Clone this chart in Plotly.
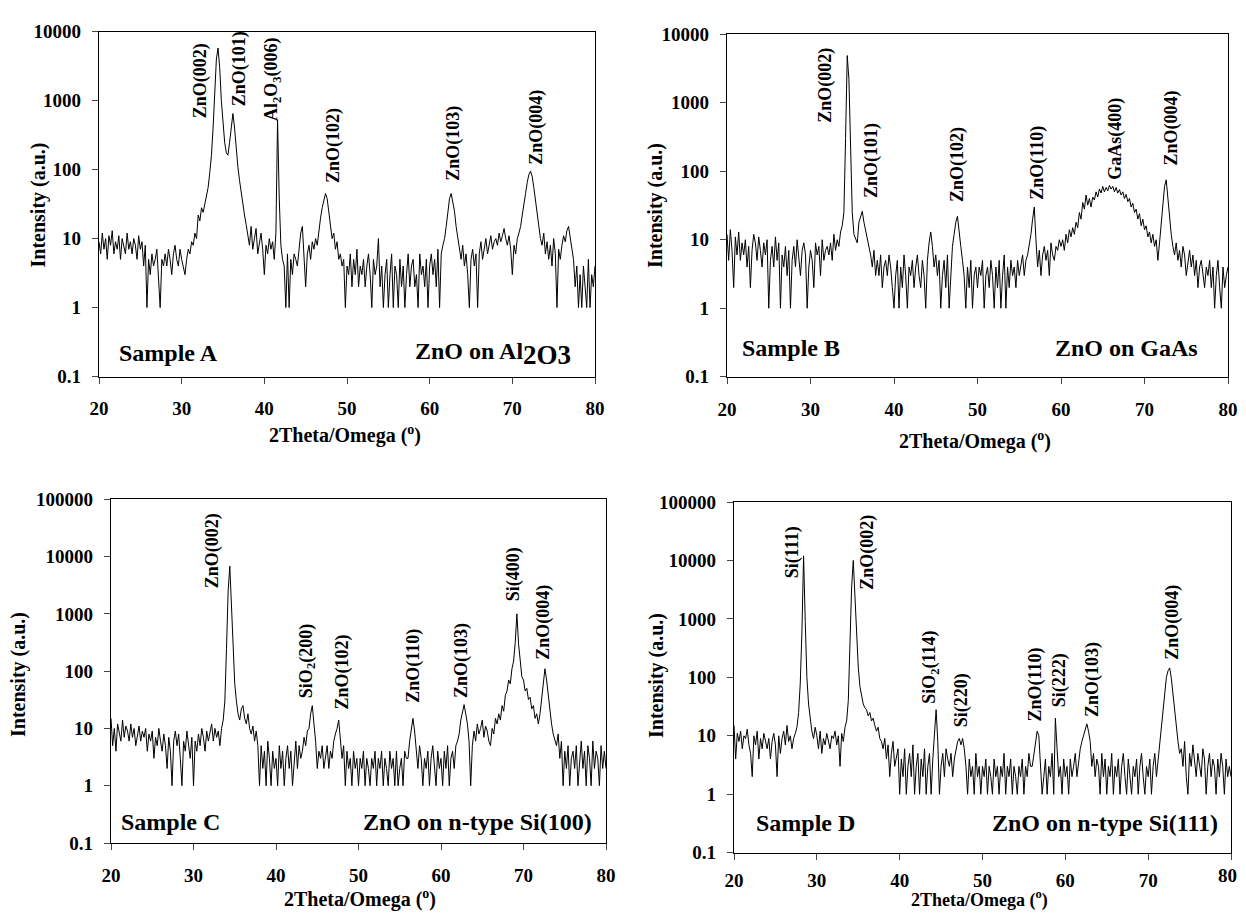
import numpy as np
import plotly.graph_objects as go

# ---------------- data (2theta scan 20..80 deg, step 0.2 deg) ----------------
scan_start, scan_step, scan_points = 20.0, 0.2, 301
two_theta = np.round(scan_start + scan_step * np.arange(scan_points), 2)

# Sample A: ZnO on Al2O3 (counts)
counts_A = [
    9, 6, 12, 7, 10, 5, 11, 8, 13, 6,        # 20
    9, 7, 11, 5, 10, 8, 6, 12, 7, 9,         # 22
    6, 10, 8, 5, 11, 7, 9, 4, 8, 1,          # 24
    5, 3, 6, 4, 5, 7, 3, 1, 5, 4,            # 26
    6, 4, 7, 5, 3, 6, 8, 5, 4, 7,            # 28
    5, 4, 3, 5, 7, 6, 9, 8, 12, 10,          # 30
    22, 18, 28, 24, 32, 42, 55, 90, 160, 400,  # 32
    1500, 4000, 5800, 3000, 1000, 450, 250, 175, 162, 250,  # 34
    450, 650, 400, 200, 110, 70, 45, 35, 22, 16,  # 36
    12, 8, 15, 7, 10, 14, 6, 9, 12, 7,       # 38
    3, 8, 6, 10, 7, 9, 5, 12, 530, 40,       # 40
    8, 5, 4, 1, 6, 1, 5, 3, 6, 5,            # 42
    4, 7, 12, 15, 5, 2, 6, 8, 5, 9,          # 44
    7, 10, 8, 14, 20, 28, 35, 45, 38, 25,    # 46
    15, 10, 12, 7, 9, 5, 6, 4, 5, 1,         # 48
    4, 3, 6, 2, 5, 3, 7, 2, 4, 3,            # 50
    5, 2, 4, 6, 3, 1, 5, 3, 4, 10,           # 52
    2, 4, 1, 3, 5, 1, 3, 6, 1, 4,            # 54
    3, 1, 5, 2, 4, 1, 3, 6, 2, 4,            # 56
    5, 2, 3, 1, 6, 3, 4, 2, 5, 1,            # 58
    4, 6, 3, 5, 2, 7, 1, 6, 8, 10,           # 60
    15, 25, 38, 45, 35, 25, 15, 10, 7, 5,    # 62
    8, 4, 6, 3, 1, 5, 7, 4, 6, 1,            # 64
    6, 9, 5, 7, 10, 6, 8, 11, 7, 9,          # 66
    10, 8, 12, 9, 11, 14, 10, 8, 11, 7,      # 68
    3, 8, 6, 10, 12, 15, 22, 30, 45, 65,     # 70
    85, 95, 80, 55, 35, 22, 15, 10, 8, 12,   # 72
    6, 9, 5, 8, 4, 10, 6, 1, 7, 5,           # 74
    8, 11, 9, 13, 15, 10, 7, 5, 2, 4,        # 76
    1, 3, 1, 4, 2, 1, 5, 1, 3, 2,            # 78
    4,                                        # 80
]

# Sample B: ZnO on GaAs
counts_B = [
    12, 5, 14, 7, 2, 11, 6, 13, 5, 9,        # 20
    6, 10, 4, 8, 2, 7, 12, 9, 5, 11,         # 22
    7, 4, 9, 6, 10, 1, 5, 8, 4, 11,          # 24
    5, 9, 1, 6, 4, 8, 3, 7, 1, 5,            # 26
    8, 4, 10, 5, 3, 7, 9, 6, 1, 4,           # 28
    7, 5, 2, 9, 6, 8, 3, 10, 5, 7,           # 30
    8, 6, 9, 5, 12, 7, 10, 8, 13, 16,        # 32
    25, 300, 4900, 2200, 150, 25, 12, 10, 9, 18,  # 34
    22, 26, 18, 14, 10, 8, 6, 4, 7, 3,       # 36
    5, 3, 6, 2, 4, 5, 3, 6, 4, 2,            # 38
    1, 3, 5, 1, 4, 2, 6, 3, 1, 4,            # 40
    3, 5, 2, 4, 6, 3, 2, 5, 3, 1,            # 42
    5, 9, 13, 8, 4, 6, 3, 5, 1, 3,           # 44
    5, 2, 6, 1, 3, 8, 12, 18, 22, 12,        # 46
    8, 5, 3, 1, 4, 2, 5, 1, 3, 4,            # 48
    2, 4, 3, 5, 1, 3, 4, 2, 5, 3,            # 50
    1, 4, 2, 5, 1, 3, 6, 1, 4, 2,            # 52
    5, 3, 4, 2, 5, 3, 4, 6, 3, 5,            # 54
    6, 8, 12, 20, 30, 10, 4, 7, 3, 6,        # 56
    8, 5, 7, 3, 9, 6, 5, 8, 7, 10,           # 58
    8, 10, 7, 12, 9, 14, 11, 15, 12, 18,     # 60
    15, 25, 20, 35, 28, 45, 32, 40, 30, 42,  # 62
    38, 50, 42, 55, 48, 60, 50, 58, 52, 62,  # 64
    55, 60, 50, 58, 48, 54, 45, 50, 40, 46,  # 66
    36, 40, 30, 34, 25, 28, 20, 24, 16, 20,  # 68
    14, 16, 11, 13, 9, 12, 8, 10, 5, 9,      # 70
    18, 35, 60, 75, 40, 20, 12, 8, 6, 9,     # 72
    5, 7, 4, 8, 6, 3, 5, 7, 4, 6,            # 74
    3, 5, 2, 4, 5, 3, 2, 4, 3, 5,            # 76
    2, 4, 1, 3, 5, 2, 1, 4, 2, 3,            # 78
    4,                                        # 80
]

# Sample C: ZnO on n-type Si(100)
counts_C = [
    15, 5, 10, 4, 12, 8, 6, 14, 7, 11,       # 20
    9, 6, 12, 7, 10, 5, 8, 11, 6, 9,         # 22
    7, 10, 4, 8, 6, 9, 3, 7, 5, 10,          # 24
    6, 4, 8, 5, 2, 7, 4, 1, 6, 9,            # 26
    5, 8, 3, 1, 6, 4, 9, 5, 3, 7,            # 28
    1, 6, 4, 8, 5, 10, 7, 4, 9, 6,           # 30
    8, 12, 6, 10, 7, 9, 5, 10, 14, 30,       # 32
    250, 2500, 6800, 1300, 200, 60, 30, 18, 14, 22,  # 34
    25, 15, 12, 18, 10, 8, 11, 6, 9, 5,      # 36
    1, 5, 2, 4, 1, 6, 3, 1, 4, 2,            # 38
    3, 1, 5, 2, 4, 1, 3, 5, 2, 4,            # 40
    1, 3, 6, 2, 5, 3, 4, 7, 5, 9,            # 42
    10, 18, 25, 12, 6, 2, 4, 3, 5, 2,        # 44
    3, 5, 2, 4, 3, 6, 8, 10, 14, 6,          # 46
    3, 5, 1, 4, 2, 3, 1, 4, 2, 3,            # 48
    1, 3, 2, 4, 1, 3, 2, 1, 3, 2,            # 50
    4, 1, 3, 2, 4, 1, 3, 2, 1, 4,            # 52
    2, 3, 1, 4, 1, 2, 3, 1, 4, 3,            # 54
    3, 6, 10, 15, 9, 4, 2, 5, 3, 1,          # 56
    3, 2, 4, 1, 3, 5, 2, 1, 4, 2,            # 58
    3, 1, 4, 2, 5, 1, 3, 4, 2, 5,            # 60
    6, 8, 14, 20, 26, 18, 12, 6, 1, 5,       # 62
    9, 6, 12, 8, 10, 14, 7, 11, 9, 6,        # 64
    5, 10, 8, 15, 12, 18, 14, 25, 20, 38,    # 66
    45, 70, 60, 110, 150, 320, 1000, 300, 150, 80,  # 68
    70, 45, 50, 32, 35, 22, 25, 15, 18, 12,  # 70
    18, 35, 70, 110, 70, 35, 18, 12, 8, 6,   # 72
    5, 8, 3, 6, 1, 4, 2, 5, 1, 3,            # 74
    4, 2, 5, 1, 3, 6, 2, 4, 1, 5,            # 76
    3, 1, 6, 2, 4, 3, 1, 5, 2, 4,            # 78
    2,                                        # 80
]

# Sample D: ZnO on n-type Si(111)
counts_D = [
    15, 4, 11, 8, 12, 6, 10, 9, 13, 7,       # 20
    5, 2, 10, 7, 12, 4, 9, 6, 11, 8,         # 22
    6, 9, 4, 8, 11, 7, 2, 10, 5, 9,          # 24
    12, 7, 15, 8, 10, 6, 9, 11, 14, 25,      # 26
    80, 600, 12000, 900, 100, 35, 18, 12, 9, 14,  # 28
    10, 6, 12, 5, 9, 7, 11, 8, 6, 10,        # 30
    9, 12, 7, 10, 3, 11, 8, 14, 18, 40,      # 32
    400, 3500, 10000, 2500, 500, 150, 70, 45, 35, 30,  # 34
    28, 22, 25, 18, 20, 15, 12, 14, 9, 8,    # 36
    6, 9, 4, 7, 2, 5, 8, 3, 4, 6,            # 38
    1, 4, 2, 6, 1, 3, 5, 2, 7, 1,            # 40
    3, 5, 1, 4, 2, 6, 1, 3, 5, 1,            # 42
    4, 12, 28, 8, 1, 3, 5, 2, 6, 4,          # 44
    3, 5, 2, 4, 6, 8, 9, 7, 9, 6,            # 46
    3, 1, 4, 2, 3, 1, 5, 2, 3, 1,            # 48
    3, 2, 4, 1, 3, 2, 1, 4, 2, 3,            # 50
    1, 3, 2, 5, 1, 3, 2, 4, 1, 3,            # 52
    2, 1, 3, 2, 4, 1, 3, 2, 5, 3,            # 54
    3, 5, 8, 12, 10, 3, 1, 2, 4, 1,          # 56
    3, 2, 5, 1, 20, 6, 2, 3, 1, 4,           # 58
    2, 3, 1, 4, 2, 3, 5, 2, 4, 6,            # 60
    8, 10, 13, 16, 12, 8, 3, 5, 2, 4,        # 62
    3, 1, 5, 2, 4, 1, 3, 2, 5, 1,            # 64
    3, 2, 4, 1, 3, 5, 2, 1, 4, 2,            # 66
    1, 3, 2, 4, 1, 3, 5, 2, 1, 3,            # 68
    2, 4, 1, 3, 5, 2, 4, 8, 15, 30,          # 70
    60, 100, 130, 145, 95, 50, 25, 12, 8, 5,  # 72
    6, 3, 8, 2, 1, 5, 3, 7, 4, 2,            # 74
    5, 3, 2, 6, 4, 1, 3, 5, 2, 4,            # 76
    3, 1, 4, 2, 5, 3, 1, 4, 2, 3,            # 78
    2,                                        # 80
]

for c in (counts_A, counts_B, counts_C, counts_D):
    assert len(c) == scan_points

sample_names = ["Sample A", "Sample B", "Sample C", "Sample D"]
substrate_names = ["ZnO on Al<sub><span style='font-size:27px'>2O3</span></sub>",
                   "ZnO on GaAs", "ZnO on n-type Si(100)", "ZnO on n-type Si(111)"]
x_ticks = [20, 30, 40, 50, 60, 70, 80]

peaks_A = ["ZnO(002)", "ZnO(101)", "Al<sub>2</sub>O<sub>3</sub>(006)", "ZnO(102)", "ZnO(103)", "ZnO(004)"]
peaks_B = ["ZnO(002)", "ZnO(101)", "ZnO(102)", "ZnO(110)", "GaAs(400)", "ZnO(004)"]
peaks_C = ["ZnO(002)", "SiO<sub>2</sub>(200)", "ZnO(102)", "ZnO(110)", "ZnO(103)", "Si(400)", "ZnO(004)"]
peaks_D = ["Si(111)", "ZnO(002)", "SiO<sub>2</sub>(114)", "Si(220)", "ZnO(110)", "Si(222)", "ZnO(103)", "ZnO(004)"]

# ---------------- layout (positions) ----------------
PAGE_W, PAGE_H = 1246, 920
BODY_MARGIN = 8                      # default page margin around the figure
W, H = PAGE_W - 2 * BODY_MARGIN, PAGE_H - 2 * BODY_MARGIN
FONT = "Liberation Serif, Times New Roman, serif"
TICK_FONT = dict(family=FONT, size=19, color="black", weight="bold")

def px_x(p):
    return (p - BODY_MARGIN) / W

def px_y(p):
    return 1 - (p - BODY_MARGIN) / H

# plot-area pixel boxes in page pixels: left, right, top, bottom
boxes = [(99, 595, 31.7, 376.5), (727, 1228, 34.3, 376.7), (111, 606, 499.3, 843), (734, 1231, 502, 852.7)]
y_top_exp = [4, 4, 5, 5]
x_label_standoff = [9, 9, 9, 4]

label_pos = [
    [(32.3, 2.72), (37.0, 2.89), (41.0, 2.67), (48.4, 1.78), (62.9, 1.81), (72.9, 2.04)],
    [(31.8, 2.68), (37.3, 1.58), (47.6, 1.52), (57.1, 1.55), (66.5, 1.85), (73.2, 2.05)],
    [(32.4, 3.41), (43.8, 1.50), (48.1, 1.30), (56.7, 1.41), (62.4, 1.50), (68.8, 3.18), (72.4, 2.16)],
    [(27.0, 3.66), (36.1, 3.46), (43.7, 1.51), (47.4, 1.11), (56.4, 1.20), (59.4, 1.46), (63.3, 1.29), (72.9, 2.26)],
]
peak_texts = [peaks_A, peaks_B, peaks_C, peaks_D]
all_counts = [counts_A, counts_B, counts_C, counts_D]

# x-title: (x centre, y, y-anchor, font size)
xtitle_pos = [(345, 434, "middle", 20), (975, 440, "middle", 20),
              (360, 898, "middle", 20), (979, 912, "bottom", 18)]
ytitle_pos = [(37.5, 205), (655, 206), (18, 675), (656, 676)]
sample_pos = [(117, 353), (740, 348), (119, 822), (754, 822.5)]
substrate_pos = [(573, 354), (1200, 348), (594, 822), (1220, 822.5)]

fig = go.Figure()
annotations = []
layout_axes = {}

for i in range(4):
    sfx = "" if i == 0 else str(i + 1)
    xa, ya = "x" + sfx, "y" + sfx
    l, r, t, b = boxes[i]
    fig.add_trace(go.Scatter(
        x=two_theta, y=all_counts[i], mode="lines",
        line=dict(color="black", width=1), xaxis=xa, yaxis=ya,
        showlegend=False, hoverinfo="x+y"))
    # the last panel's "80" sits at the page edge: drawn separately below
    xt_text = [str(v) for v in x_ticks]
    if i == 3:
        xt_text[-1] = ""
    layout_axes["xaxis" + sfx] = dict(
        domain=[px_x(l), px_x(r)], range=[20, 80], anchor=ya,
        tickvals=x_ticks, ticktext=xt_text, ticks="outside", ticklen=6, tickwidth=1.3,
        showline=True, linecolor="black", linewidth=1.3, mirror=True,
        showgrid=False, zeroline=False, ticklabelstandoff=x_label_standoff[i],
        automargin=False, tickfont=TICK_FONT)
    exps = list(range(-1, y_top_exp[i] + 1))
    layout_axes["yaxis" + sfx] = dict(
        domain=[px_y(b), px_y(t)], type="log", range=[-1, y_top_exp[i]], anchor=xa,
        tickvals=[10.0 ** e for e in exps],
        ticktext=["0.1" if e < 0 else str(10 ** e) for e in exps],
        ticks="outside", ticklen=6, tickwidth=1.3,
        showline=True, linecolor="black", linewidth=1.3, mirror=True,
        showgrid=False, zeroline=False, ticklabelstandoff=7, automargin=False,
        tickfont=TICK_FONT)

    for txt, (lx, ly) in zip(peak_texts[i], label_pos[i]):
        annotations.append(dict(
            text=txt, x=lx, y=ly, xref=xa, yref=ya, showarrow=False,
            textangle=-90, xanchor="center", yanchor="bottom",
            font=dict(family=FONT, size=18, color="black", weight="bold")))

    tx, ty, tanchor, tsize = xtitle_pos[i]
    annotations.append(dict(
        text="2Theta/Omega (<sup>o</sup>)", x=px_x(tx), y=px_y(ty), xref="paper", yref="paper",
        showarrow=False, xanchor="center", yanchor=tanchor, borderpad=0,
        font=dict(family=FONT, size=tsize, color="black", weight="bold")))
    tx, ty = ytitle_pos[i]
    annotations.append(dict(
        text="Intensity (a.u.)", x=px_x(tx), y=px_y(ty), xref="paper", yref="paper",
        showarrow=False, textangle=-90, xanchor="center", yanchor="middle",
        font=dict(family=FONT, size=20, color="black", weight="bold")))
    sx, sy = sample_pos[i]
    annotations.append(dict(
        text=sample_names[i], x=px_x(sx), y=px_y(sy), xref="paper", yref="paper",
        showarrow=False, xanchor="left", yanchor="middle",
        font=dict(family=FONT, size=24, color="black", weight="bold")))
    sx, sy = substrate_pos[i]
    annotations.append(dict(
        text=substrate_names[i], x=px_x(sx), y=px_y(sy), xref="paper", yref="paper",
        showarrow=False, xanchor="right", yanchor="middle",
        font=dict(family=FONT, size=24, color="black", weight="bold")))

# "80" tick label of the last panel, kept inside the page
annotations.append(dict(
    text=str(x_ticks[-1]), x=1.0, y=px_y(875), xref="paper", yref="paper",
    showarrow=False, xanchor="right", yanchor="middle", borderpad=0,
    font=TICK_FONT))

fig.update_layout(
    width=W, height=H, margin=dict(l=0, r=0, t=0, b=0),
    paper_bgcolor="white", plot_bgcolor="white",
    annotations=annotations, **layout_axes)

fig.write_html("out.html", config={"displayModeBar": False})
